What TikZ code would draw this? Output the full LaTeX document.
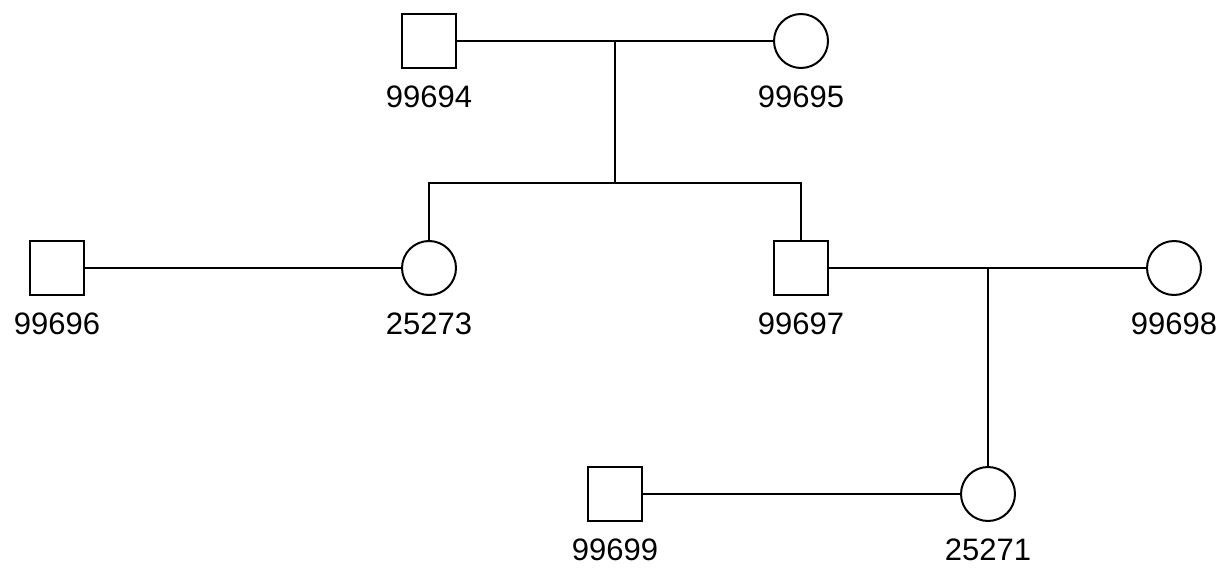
\documentclass[tikz,border=0pt]{standalone}
\usepackage{fontspec}
\setmainfont{Liberation Sans}
\begin{document}
\begin{tikzpicture}[x=1pt,y=-1pt,
  male/.style={draw,line width=2pt,rectangle,minimum size=54pt,inner sep=0pt},
  female/.style={draw,line width=2pt,circle,minimum size=54pt,inner sep=0pt},
  lbl/.style={anchor=base,inner sep=0pt,font=\fontsize{31}{36}\selectfont},
  conn/.style={line width=2pt}]
\useasboundingbox (0,0) rectangle (1222,567);
% generation 1
\node[male]   (p94) at (429,41) {};
\node[female] (p95) at (801,41) {};
\node[lbl] (l94) at (429,107) {99694};
\node[lbl] (l95) at (801,107) {99695};
% generation 2
\node[male]   (p96) at (57,268) {};
\node[female] (p73) at (429,268) {};
\node[male]   (p97) at (801,268) {};
\node[female] (p98) at (1174,268) {};
\node[lbl] (l96) at (57,334) {99696};
\node[lbl] (l73) at (429,334) {25273};
\node[lbl] (l97) at (801,334) {99697};
\node[lbl] (l98) at (1174,334) {99698};
% generation 3
\node[male]   (p99) at (615,494) {};
\node[female] (p71) at (988,494) {};
\node[lbl] (l99) at (615,560) {99699};
\node[lbl] (l71) at (988,560) {25271};
% coordinates
\coordinate (m1) at (615,41);
\coordinate (s1) at (615,183);
\coordinate (c1) at (429,183);
\coordinate (c2) at (801,183);
\coordinate (m2) at (988,268);
% connectors
\draw[conn] (p94.east) -- (p95.west);
\draw[conn] (m1) -- (s1);
\draw[conn] (p73.north) -- (c1) -- (c2) -- (p97.north);
\draw[conn] (p96.east) -- (p73.west);
\draw[conn] (p97.east) -- (p98.west);
\draw[conn] (m2) -- (p71.north);
\draw[conn] (p99.east) -- (p71.west);
\end{tikzpicture}
\end{document}
